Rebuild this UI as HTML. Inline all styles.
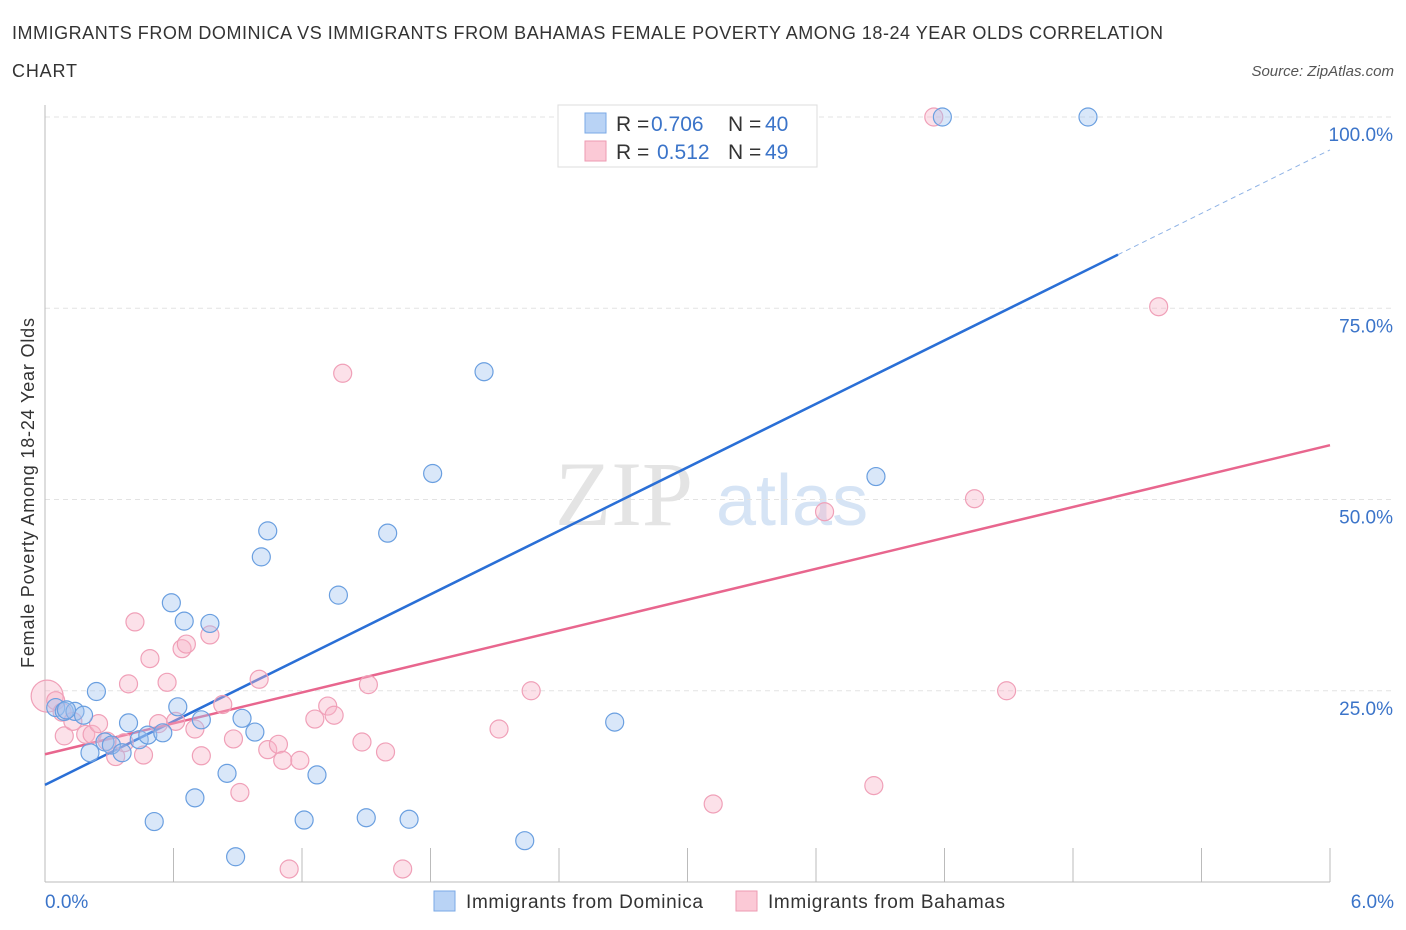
<!DOCTYPE html>
<html><head><meta charset="utf-8"><style>
body{margin:0;background:#fff;font-family:"Liberation Sans",sans-serif;}
svg{display:block}
</style></head><body>
<svg id="chart" width="1406" height="930" xmlns="http://www.w3.org/2000/svg" font-family="Liberation Sans, sans-serif">
<text x="12" y="39" font-size="18" fill="#333" textLength="1151" lengthAdjust="spacing">IMMIGRANTS FROM DOMINICA VS IMMIGRANTS FROM BAHAMAS FEMALE POVERTY AMONG 18-24 YEAR OLDS CORRELATION</text>
<text x="12" y="77" font-size="18" fill="#333" textLength="65" lengthAdjust="spacing">CHART</text>
<text x="1394" y="76" font-size="15" fill="#555" text-anchor="end" font-style="italic">Source: ZipAtlas.com</text>
<text x="555" y="525" font-size="92" fill="#e4e4e4" font-family="Liberation Serif, serif">ZIP</text>
<text x="716" y="525" font-size="72" fill="#d6e4f5">atlas</text>
<g id="grid"></g>
<g id="axes"></g>
<g id="lines"></g>
<g id="points"></g>
<text transform="translate(34,493) rotate(-90)" font-size="18" fill="#333" text-anchor="middle" textLength="350" lengthAdjust="spacing">Female Poverty Among 18-24 Year Olds</text>
<text x="45" y="908" font-size="19" fill="#3b74c9">0.0%</text>
<text x="1394" y="908" font-size="19" fill="#3b74c9" text-anchor="end">6.0%</text>
<g>
<rect x="558" y="105" width="259" height="62" fill="#fff" stroke="#ddd"/>
<rect x="585" y="113" width="21" height="20" fill="#b9d3f5" stroke="#7aa8e6"/>
<rect x="585" y="141" width="21" height="20" fill="#fbc9d6" stroke="#ee9ab2"/>
<text x="616" y="131" font-size="21" fill="#333">R = <tspan fill="#3b74c9" x="651">0.706</tspan><tspan x="728">N = </tspan><tspan fill="#3b74c9" x="765">40</tspan></text>
<text x="616" y="159" font-size="21" fill="#333">R = <tspan fill="#3b74c9" x="657">0.512</tspan><tspan x="728">N = </tspan><tspan fill="#3b74c9" x="765">49</tspan></text>
</g>
<g>
<rect x="434" y="891" width="21" height="20" fill="#b9d3f5" stroke="#7aa8e6"/>
<text x="466" y="908" font-size="19" fill="#333" textLength="237" lengthAdjust="spacing">Immigrants from Dominica</text>
<rect x="736" y="891" width="21" height="20" fill="#fbc9d6" stroke="#ee9ab2"/>
<text x="768" y="908" font-size="19" fill="#333" textLength="237" lengthAdjust="spacing">Immigrants from Bahamas</text>
</g>
</svg>
<script>
const yTicks=[25,50,75,100];
const yTickLabels=["25.0%","50.0%","75.0%","100.0%"];
const xTicks=[0,0.6,1.2,1.8,2.4,3.0,3.6,4.2,4.8,5.4,6.0];
const dominicaX=[0.05,0.09,0.14,0.18,0.24,0.21,0.28,0.31,0.36,0.39,0.44,0.48,0.51,0.55,0.59,0.62,0.65,0.70,0.73,0.77,0.85,0.89,0.92,0.98,1.01,1.04,1.21,1.27,1.37,1.50,1.60,1.70,1.81,2.05,2.24,2.66,3.88,4.19,4.87,0.10];
const dominicaY=[22.8,22.3,22.3,21.8,24.9,16.9,18.3,17.9,16.9,20.8,18.6,19.2,7.9,19.5,36.5,22.9,34.1,11.0,21.2,33.8,14.2,3.3,21.4,19.6,42.5,45.9,8.1,14.0,37.5,8.4,45.6,8.2,53.4,66.7,5.4,20.9,53.0,100,100,22.5];
const bahamasX=[0.01,0.05,0.08,0.09,0.13,0.19,0.22,0.25,0.29,0.33,0.37,0.39,0.42,0.46,0.49,0.53,0.57,0.61,0.64,0.66,0.70,0.73,0.77,0.83,0.88,0.91,1.00,1.04,1.09,1.11,1.14,1.19,1.26,1.32,1.35,1.39,1.48,1.51,1.59,1.67,2.12,2.27,3.12,3.64,3.87,4.15,4.34,4.49,5.20];
const bahamasY=[24.3,23.7,22.2,19.1,21.0,19.3,19.3,20.7,18.4,16.4,18.2,25.9,34.0,16.6,29.2,20.7,26.1,21.0,30.5,31.1,20.0,16.5,32.3,23.2,18.7,11.7,26.5,17.3,18.0,15.9,1.7,15.9,21.3,23.0,21.8,66.5,18.3,25.8,17.0,1.7,20.0,25.0,10.2,48.4,12.6,100,50.1,25.0,75.2];
const dominicaFit=[12.7,95.7];
const bahamasFit=[16.7,57.1];
const fitSolidEnd=5.01;
const NS='http://www.w3.org/2000/svg';
const X0=45,X1=1330,Y0=882,Y100=117;
const sx=v=>X0+(v/6)*(X1-X0);
const sy=v=>Y0-(v/100)*(Y0-Y100);
function mk(tag,attrs,parent){const e=document.createElementNS(NS,tag);for(const k in attrs)e.setAttribute(k,attrs[k]);parent.appendChild(e);return e;}
const grid=document.getElementById('grid'),axes=document.getElementById('axes'),lines=document.getElementById('lines'),pts=document.getElementById('points');
yTicks.forEach((t,i)=>{
  const l=mk('line',{x1:X0,x2:1394,y1:sy(t),y2:sy(t),stroke:'#e3e3e3','stroke-dasharray':'5,4'},grid);
  
  
  const tx=mk('text',{x:1393,y:sy(t)+24,'font-size':19,fill:'#3b74c9','text-anchor':'end'},grid);
  tx.textContent=yTickLabels[i];
  
  
});
const ax=mk('line',{x1:X0,x2:X0,y1:105,y2:Y0,stroke:'#bbb'},axes);


const bx=mk('line',{x1:X0,x2:X1,y1:Y0,y2:Y0,stroke:'#bbb'},axes);


xTicks.forEach(t=>{
  const l=mk('line',{x1:sx(t),x2:sx(t),y1:Y0,y2:Y0-34,stroke:'#bbb'},axes);
  
  
});
function fitY(f,x){return f[0]+(f[1]-f[0])*x/6;}
let l1=mk('line',{x1:sx(0),y1:sy(fitY(dominicaFit,0)),x2:sx(fitSolidEnd),y2:sy(fitY(dominicaFit,fitSolidEnd)),stroke:'#2a6fd6','stroke-width':2.5},lines);


let l2=mk('line',{x1:sx(fitSolidEnd),y1:sy(fitY(dominicaFit,fitSolidEnd)),x2:sx(6),y2:sy(fitY(dominicaFit,6)),stroke:'#8fb3e6','stroke-width':1,'stroke-dasharray':'5,4'},lines);


let l3=mk('line',{x1:sx(0),y1:sy(bahamasFit[0]),x2:sx(6),y2:sy(bahamasFit[1]),stroke:'#e8668e','stroke-width':2.5},lines);


bahamasX.forEach((x,i)=>{
  const c=mk('circle',{cx:sx(x),cy:sy(bahamasY[i]),r:i===0?16:9,fill:'rgba(248,180,200,0.4)',stroke:'#f0a0b8','stroke-width':1.2},pts);
  
  
});
dominicaX.forEach((x,i)=>{
  const c=mk('circle',{cx:sx(x),cy:sy(dominicaY[i]),r:9,fill:'rgba(160,196,240,0.4)',stroke:'#6a9fe0','stroke-width':1.2},pts);
  
  
});
</script>
</body></html>
